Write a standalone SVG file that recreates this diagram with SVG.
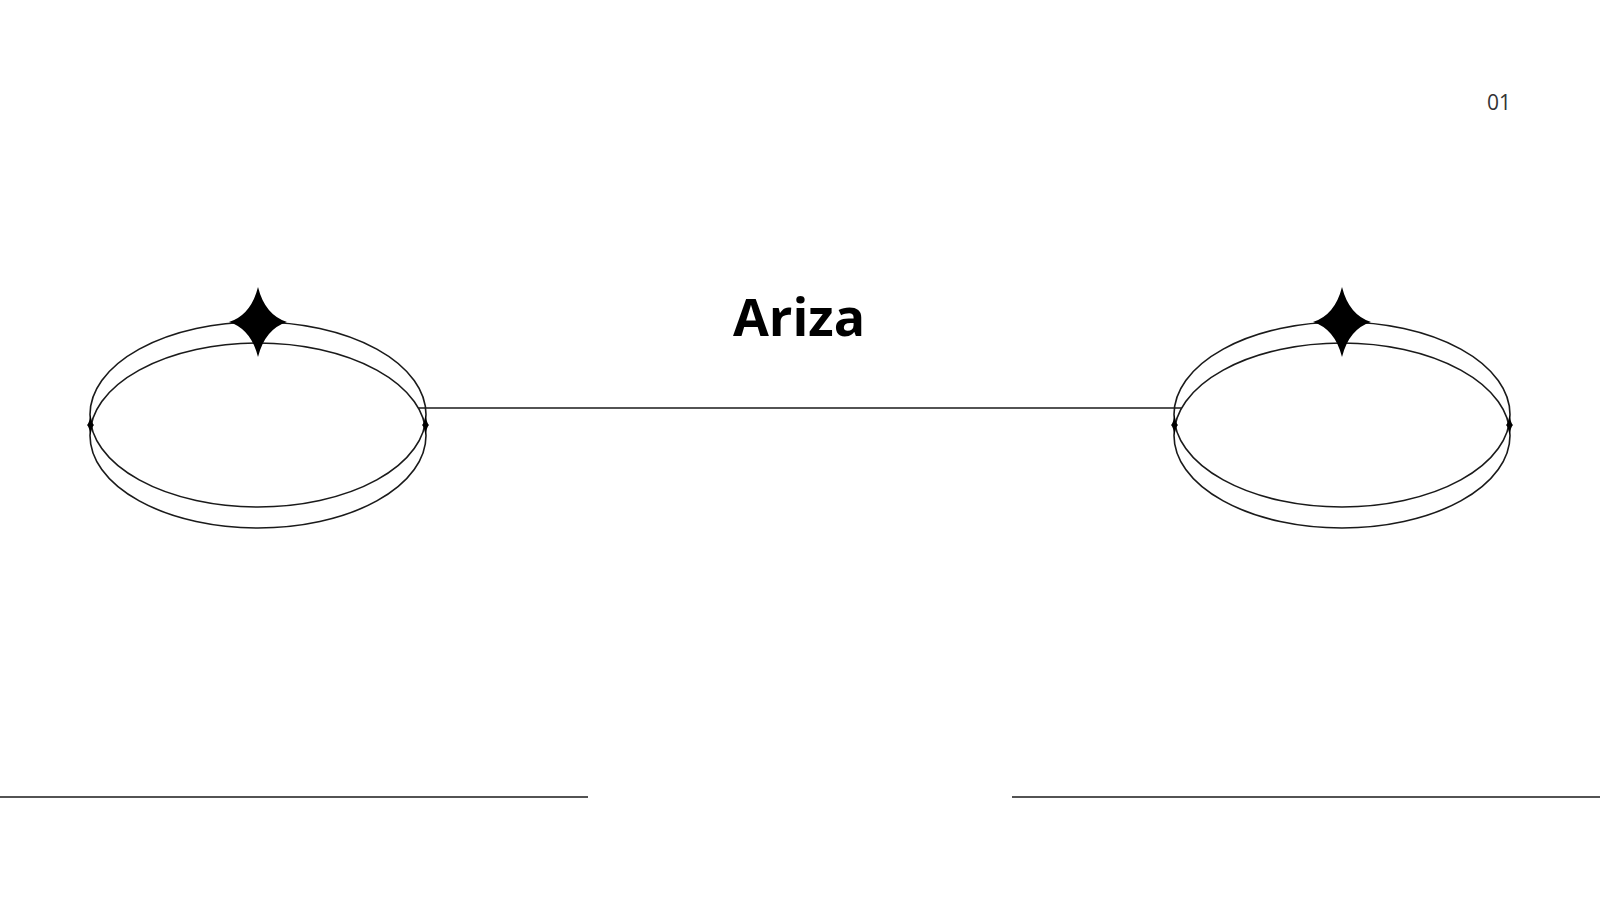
<svg xmlns="http://www.w3.org/2000/svg" width="1600" height="900" viewBox="0 0 1600 900">
<defs>
<style>
.ring{fill:none;stroke:#1a1a1a;stroke-width:1.6}
.line{stroke:#1a1a1a;stroke-width:1.6;fill:none}
.star{fill:#000}
.title{font-family:"Open Sans","Noto Sans","Liberation Sans",sans-serif;font-weight:700;font-size:52px;fill:#000}
.num{font-family:"Open Sans","Noto Sans","Liberation Sans",sans-serif;font-size:21px;fill:#333}
</style>
<path id="bigstar" d="M0,-35 Q7,-7 29,0 Q7,7 0,35 Q-7,7 -29,0 Q-7,-7 0,-35 Z"/>
<path id="smallstar" d="M0,-10 Q1.5,-1.5 3.5,0 Q1.5,1.5 0,10 Q-1.5,1.5 -3.5,0 Q-1.5,-1.5 0,-10 Z"/>
</defs>
<rect width="1600" height="900" fill="#fff"/>
<text class="num" x="1511" y="110" text-anchor="end">01</text>
<text class="title" x="799" y="336" text-anchor="middle">Ariza</text>
<g id="connectors">
<line class="line" x1="418.4" y1="408" x2="1181.6" y2="408"/>
<line class="line" x1="0" y1="797" x2="588" y2="797"/>
<line class="line" x1="1012" y1="797" x2="1600" y2="797"/>
</g>
<g id="node-left">
<ellipse class="ring" cx="258" cy="414.5" rx="168" ry="92.5"/>
<ellipse class="ring" cx="258" cy="435.5" rx="168" ry="92.5"/>
<use href="#bigstar" class="star" x="258" y="322"/>
<use href="#smallstar" class="star" x="90.5" y="425"/>
<use href="#smallstar" class="star" x="425.5" y="425"/>
</g>
<g id="node-right">
<ellipse class="ring" cx="1342" cy="414.5" rx="168" ry="92.5"/>
<ellipse class="ring" cx="1342" cy="435.5" rx="168" ry="92.5"/>
<use href="#bigstar" class="star" x="1342" y="322"/>
<use href="#smallstar" class="star" x="1174.5" y="425"/>
<use href="#smallstar" class="star" x="1509.5" y="425"/>
</g>
</svg>
